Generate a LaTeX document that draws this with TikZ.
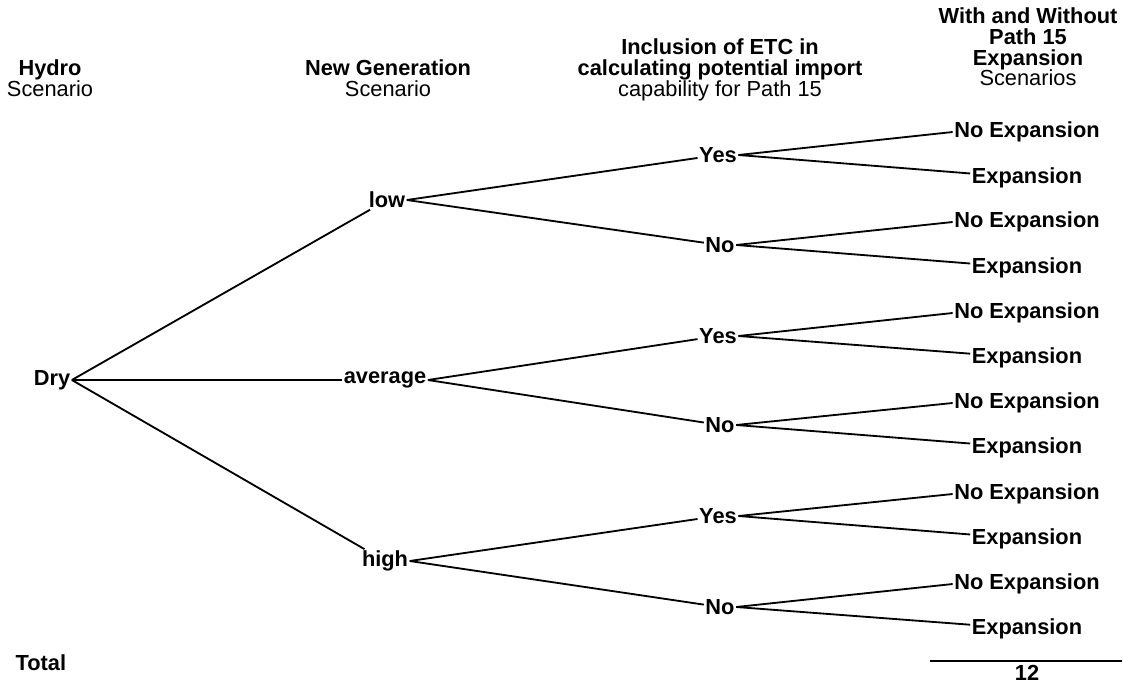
\documentclass[tikz,border=0pt]{standalone}
\usepackage{fontspec}
\setmainfont{Liberation Sans}
\tikzset{
  choice/.style = {inner sep=1pt, font=\fontsize{15.5}{18}\selectfont\bfseries},
  head/.style = {align=center, inner sep=0pt, font=\fontsize{15.5}{14.7}\selectfont},
  branch/.style = {draw, line width=1.3pt},
}
\begin{document}
\begin{tikzpicture}[x=0.025cm,y=-0.025cm]
\useasboundingbox (0,0) rectangle (1123,685);
% column headings
\node[head] (hhydro) at (50,78) {\textbf{Hydro}\\Scenario};
\node[head] (hgen) at (388,78) {\textbf{New Generation}\\Scenario};
\node[head] (hetc) at (720,70) {\textbf{Inclusion of ETC in}\\\textbf{calculating potential import}\\capability for Path 15};
\node[head] (hexp) at (1028,47) {\textbf{With and Without}\\\textbf{Path 15}\\\textbf{Expansion}\\Scenarios};
% tree
\node[choice] (dry) at (52,380) {Dry};
\node[choice] (low) at (387,200) {low};
\node[choice] (avg) at (385,380) {average};
\node[choice] (high) at (385,561) {high};
\node[choice] (lowyes) at (718,155) {Yes};
\node[choice] (lowno) at (720,245) {No};
\node[choice] (avgyes) at (718,336) {Yes};
\node[choice] (avgno) at (720,425) {No};
\node[choice] (highyes) at (718,516) {Yes};
\node[choice] (highno) at (720,607) {No};
\node[choice] (lyn) at (1027,132) {No Expansion};
\node[choice] (lye) at (1027,178) {Expansion};
\node[choice] (lnn) at (1027,222) {No Expansion};
\node[choice] (lne) at (1027,268) {Expansion};
\node[choice] (ayn) at (1027,313) {No Expansion};
\node[choice] (aye) at (1027,358) {Expansion};
\node[choice] (ann) at (1027,403) {No Expansion};
\node[choice] (ane) at (1027,448) {Expansion};
\node[choice] (hyn) at (1027,494) {No Expansion};
\node[choice] (hye) at (1027,539) {Expansion};
\node[choice] (hnn) at (1027,584) {No Expansion};
\node[choice] (hne) at (1027,629) {Expansion};
\path[branch] (dry.east) edge (low) edge (avg) edge (high)
      (low.east) edge (lowyes) edge (lowno)
      (avg.east) edge (avgyes) edge (avgno)
      (high.east) edge (highyes) edge (highno)
      (lowyes.east) edge (lyn.west) edge (lye)
      (lowno.east) edge (lnn.west) edge (lne)
      (avgyes.east) edge (ayn.west) edge (aye)
      (avgno.east) edge (ann.west) edge (ane)
      (highyes.east) edge (hyn.west) edge (hye)
      (highno.east) edge (hnn.west) edge (hne);
% total
\node[choice,anchor=west] (total) at (14,663) {Total};
\coordinate (sumstart) at (930,661);
\coordinate (sumend) at (1122,661);
\draw[branch] (sumstart) -- (sumend);
\node[choice] (sum) at (1027,673) {12};
\end{tikzpicture}
\end{document}
